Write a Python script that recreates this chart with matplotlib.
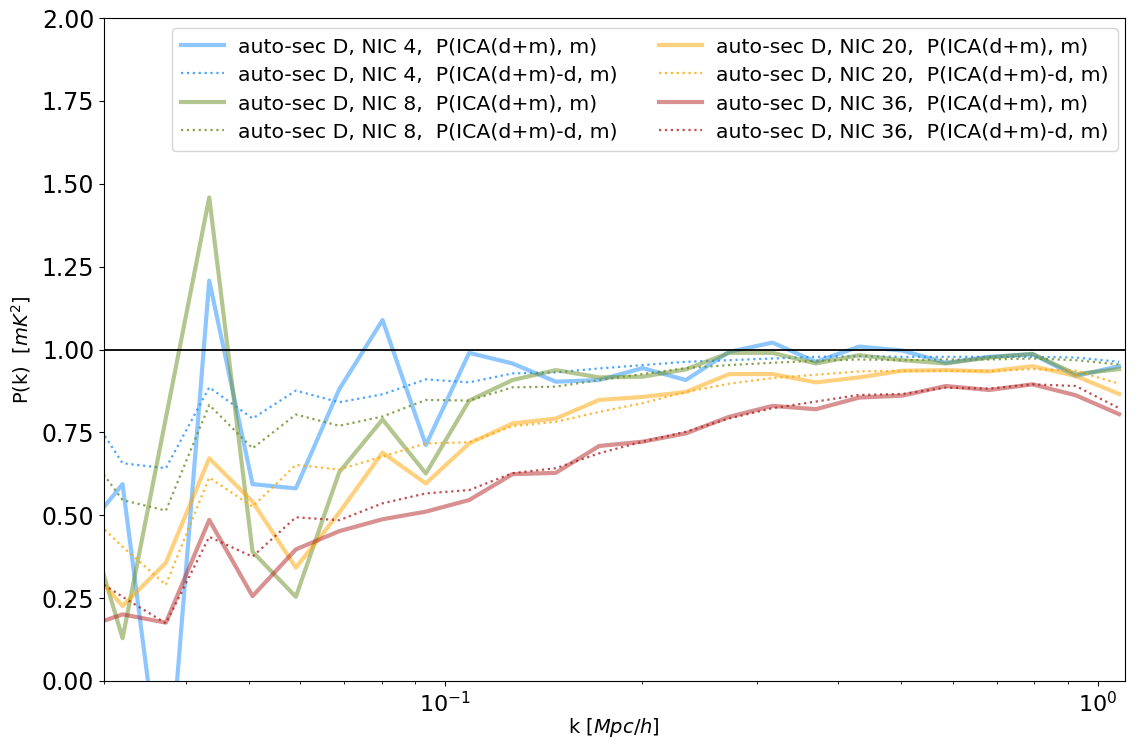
import matplotlib
matplotlib.use("Agg")
import matplotlib.pyplot as plt

# Wavenumber bin centres [Mpc/h]
k = [0.02749, 0.03203, 0.03732, 0.04349, 0.05067, 0.05904, 0.06880, 0.08016,
     0.09341, 0.10884, 0.12682, 0.14777, 0.17218, 0.20063, 0.23377, 0.27239,
     0.31739, 0.36982, 0.43091, 0.50210, 0.58504, 0.68169, 0.79430, 0.92552,
     1.0784]

# NIC 4
nic4_full = [0.433, 0.594, -0.42, 1.208, 0.594, 0.581, 0.880, 1.089,
             0.712, 0.990, 0.958, 0.903, 0.908, 0.944, 0.908, 0.993,
             1.021, 0.963, 1.009, 0.997, 0.960, 0.978, 0.986, 0.920, 0.950]
nic4_resid = [0.858, 0.657, 0.642, 0.886, 0.792, 0.876, 0.841, 0.865,
              0.910, 0.901, 0.928, 0.931, 0.943, 0.953, 0.963, 0.968,
              0.973, 0.978, 0.980, 0.978, 0.978, 0.978, 0.978, 0.976, 0.963]

# NIC 8
nic8_full = [0.569, 0.129, 0.794, 1.459, 0.390, 0.254, 0.630, 0.789,
             0.626, 0.846, 0.908, 0.938, 0.916, 0.918, 0.940, 0.990,
             0.990, 0.958, 0.983, 0.968, 0.958, 0.976, 0.987, 0.926, 0.941]
nic8_resid = [0.723, 0.546, 0.514, 0.833, 0.702, 0.804, 0.770, 0.798,
              0.848, 0.846, 0.886, 0.888, 0.908, 0.926, 0.944, 0.953,
              0.960, 0.966, 0.970, 0.968, 0.970, 0.970, 0.973, 0.968, 0.955]

# NIC 20
nic20_full = [0.378, 0.226, 0.357, 0.672, 0.541, 0.342, 0.508, 0.689,
              0.596, 0.717, 0.777, 0.792, 0.848, 0.857, 0.872, 0.926,
              0.926, 0.901, 0.916, 0.936, 0.938, 0.934, 0.950, 0.920, 0.866]
nic20_resid = [0.530, 0.405, 0.290, 0.614, 0.526, 0.652, 0.638, 0.677,
               0.717, 0.720, 0.769, 0.782, 0.812, 0.838, 0.872, 0.897,
               0.914, 0.924, 0.934, 0.936, 0.936, 0.935, 0.941, 0.936, 0.897]

# NIC 36
nic36_full = [0.156, 0.201, 0.176, 0.486, 0.256, 0.397, 0.452, 0.488,
              0.511, 0.546, 0.624, 0.628, 0.709, 0.722, 0.747, 0.797,
              0.830, 0.820, 0.855, 0.861, 0.890, 0.878, 0.895, 0.862, 0.805]
nic36_resid = [0.339, 0.254, 0.174, 0.435, 0.375, 0.494, 0.485, 0.536,
               0.566, 0.576, 0.627, 0.642, 0.687, 0.722, 0.752, 0.792,
               0.823, 0.843, 0.863, 0.866, 0.885, 0.882, 0.895, 0.890, 0.823]

series = [
    ("4", "dodgerblue", nic4_full, nic4_resid),
    ("8", "olivedrab", nic8_full, nic8_resid),
    ("20", "orange", nic20_full, nic20_resid),
    ("36", "firebrick", nic36_full, nic36_resid),
]

y_ticks = [0.0, 0.25, 0.5, 0.75, 1.0, 1.25, 1.5, 1.75, 2.0]

fig = plt.figure(figsize=(11.43, 7.39), dpi=100)
ax = fig.add_axes([0.091, 0.0785, 0.893, 0.897])

for nic, color, full, resid in series:
    ax.plot(k, full, color=color, alpha=0.5, lw=3,
            label=f"auto-sec D, NIC {nic},  P(ICA(d+m), m)")
    ax.plot(k, resid, color=color, alpha=0.8, lw=1.6, ls=":",
            label=f"auto-sec D, NIC {nic},  P(ICA(d+m)-d, m)")

ax.axhline(1.0, color="black", lw=1.3)

ax.set_xscale("log")
ax.set_xlim(0.03, 1.1)
ax.set_ylim(0, 2)
ax.set_yticks(y_ticks)
ax.set_yticklabels([f"{v:.2f}" for v in y_ticks])
ax.tick_params(axis="y", which="major", labelsize=17)
ax.tick_params(axis="x", which="major", labelsize=16)
ax.set_xlabel("k [$Mpc/h$]", fontsize=14, labelpad=0)
ax.set_ylabel("P(k)  [$mK^2$]", fontsize=14, labelpad=6)

ax.legend(ncol=2, loc="upper right", fontsize=14.7, handlelength=2.1,
          handletextpad=0.7, columnspacing=2.0, borderpad=0.45,
          labelspacing=0.46, borderaxespad=0,
          bbox_to_anchor=(0.993, 0.985))

fig.savefig("out.png", dpi=100)
